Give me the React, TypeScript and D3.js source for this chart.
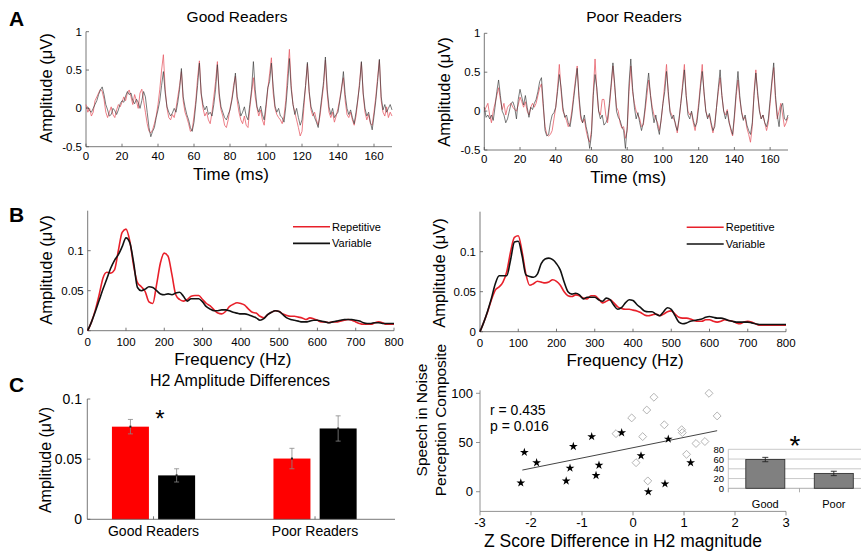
import React from "react";
import * as d3 from "d3";

// ---------- DATA ----------
const TIME_MS = d3.range(0, 171);
const TIME_TICKS = [0, 20, 40, 60, 80, 100, 120, 140, 160];
const AMP_TICKS = [-0.5, 0, 0.5, 1];

const GOOD_VAR_WAVE = [
  0.00, 0.02, -0.03, -0.05, 0.00, 0.05, 0.10, 0.18, 0.24, 0.28,
  0.18, 0.05, -0.02, -0.10, -0.08, 0.00, -0.03, -0.08, -0.02, 0.06,
  0.10, 0.08, 0.16, 0.22, 0.18, 0.20, 0.10, 0.06, 0.12, 0.08,
  0.00, 0.10, 0.22, 0.15, -0.05, -0.25, -0.37, -0.30, -0.25, -0.12,
  -0.02, 0.10, 0.30, 0.48, 0.20, 0.02, -0.05, -0.10, -0.06, 0.00,
  -0.05, 0.08, 0.25, 0.52, 0.15, 0.02, -0.08, -0.15, -0.25, -0.30,
  -0.18, 0.05, 0.30, 0.59, 0.20, 0.05, -0.02, 0.03, -0.08, -0.05,
  -0.10, 0.05, 0.25, 0.57, 0.20, 0.02, -0.05, -0.12, -0.15, -0.08,
  -0.02, 0.10, 0.25, 0.46, 0.15, 0.05, -0.10, -0.05, 0.02, -0.10,
  -0.15, 0.05, 0.25, 0.61, 0.25, 0.02, -0.05, 0.03, -0.08, -0.15,
  0.05, 0.27, 0.35, 0.59, 0.28, 0.03, -0.05, 0.00, -0.10, -0.12,
  -0.18, 0.02, 0.30, 0.65, 0.25, 0.05, -0.08, 0.00, -0.12, -0.22,
  -0.15, 0.08, 0.30, 0.60, 0.22, 0.02, -0.05, -0.12, -0.18, -0.25,
  -0.05, 0.15, 0.35, 0.67, 0.25, 0.02, -0.08, 0.00, -0.12, -0.08,
  -0.05, 0.10, 0.25, 0.48, 0.18, 0.00, -0.08, -0.02, -0.12, -0.20,
  -0.05, 0.12, 0.30, 0.61, 0.20, 0.00, -0.10, -0.05, -0.18, -0.28,
  -0.10, 0.10, 0.35, 0.64, 0.15, -0.02, 0.05, -0.05, 0.00, 0.05,
  -0.02,
];
const GOOD_REP_WAVE = [
  0.05, -0.05, 0.00, -0.10, -0.05, 0.10, 0.15, 0.20, 0.25, 0.22,
  0.12, -0.05, -0.12, -0.05, 0.02, -0.08, -0.12, -0.02, 0.05, 0.02,
  0.08, 0.15, 0.10, 0.20, 0.24, 0.15, 0.05, 0.18, 0.10, 0.00,
  0.20, 0.25, 0.10, -0.05, -0.20, -0.30, -0.32, -0.28, -0.20, -0.10,
  0.05, 0.25, 0.50, 0.70, 0.25, 0.00, -0.12, -0.15, -0.08, -0.12,
  0.00, 0.15, 0.30, 0.48, 0.10, -0.05, -0.12, -0.20, -0.30, -0.28,
  -0.10, 0.10, 0.40, 0.62, 0.18, 0.00, -0.10, -0.05, -0.15, -0.20,
  -0.05, 0.15, 0.35, 0.61, 0.15, -0.02, -0.10, -0.22, -0.25, -0.15,
  0.00, 0.12, 0.30, 0.42, 0.10, -0.05, -0.15, -0.20, -0.10, -0.22,
  -0.25, 0.00, 0.20, 0.40, 0.15, 0.00, -0.10, -0.02, -0.15, -0.22,
  0.00, 0.25, 0.45, 0.66, 0.20, 0.00, -0.08, -0.12, -0.15, -0.20,
  -0.10, 0.10, 0.45, 0.77, 0.30, 0.05, -0.05, -0.15, -0.25, -0.36,
  -0.30, 0.00, 0.30, 0.58, 0.20, -0.02, -0.10, -0.05, -0.15, -0.22,
  -0.10, 0.10, 0.30, 0.63, 0.20, -0.05, -0.12, -0.05, -0.18, -0.10,
  0.00, 0.12, 0.28, 0.40, 0.10, -0.08, -0.12, -0.05, -0.15, -0.22,
  -0.10, 0.10, 0.35, 0.60, 0.18, -0.05, -0.15, -0.08, -0.20, -0.22,
  -0.05, 0.15, 0.40, 0.63, 0.10, -0.05, -0.10, 0.02, -0.12, -0.05,
  -0.10,
];
const POOR_VAR_WAVE = [
  0.05, -0.08, -0.05, -0.10, -0.05, -0.12, 0.05, 0.25, 0.40, 0.20,
  0.00, -0.05, -0.15, -0.10, 0.00, 0.10, 0.12, 0.05, -0.10, 0.15,
  0.28, 0.18, 0.08, 0.20, 0.05, -0.08, 0.05, 0.02, 0.10, 0.15,
  0.25, 0.38, 0.43, 0.10, -0.25, -0.32, -0.30, -0.15, -0.05, -0.02,
  0.05, 0.25, 0.47, 0.30, 0.05, -0.08, -0.05, -0.15, -0.20, -0.05,
  0.15, 0.35, 0.55, 0.20, -0.05, -0.15, -0.05, -0.20, -0.30, -0.48,
  -0.30, 0.20, 0.47, 0.30, 0.00, -0.10, -0.05, -0.18, -0.15, -0.10,
  0.10, 0.35, 0.62, 0.35, 0.00, -0.08, -0.12, -0.20, -0.25, -0.48,
  -0.20, 0.35, 0.67, 0.30, 0.05, -0.10, -0.02, -0.15, -0.25, -0.15,
  0.05, 0.30, 0.49, 0.20, 0.00, -0.15, -0.05, -0.20, -0.30, -0.10,
  0.10, 0.25, 0.51, 0.25, -0.02, -0.10, -0.05, -0.18, -0.25, -0.10,
  0.10, 0.30, 0.53, 0.20, -0.05, -0.10, 0.00, -0.12, -0.20, -0.15,
  0.05, 0.30, 0.51, 0.25, 0.00, -0.10, -0.03, -0.15, -0.25, -0.20,
  0.05, 0.30, 0.53, 0.20, 0.00, -0.10, 0.00, -0.15, -0.22, -0.30,
  -0.05, 0.25, 0.51, 0.20, -0.02, -0.12, -0.05, -0.18, -0.25, -0.30,
  -0.15, 0.20, 0.49, 0.25, 0.00, -0.10, -0.05, -0.15, -0.20, -0.10,
  0.15, 0.40, 0.62, 0.20, -0.05, -0.20, 0.05, 0.10, -0.10, -0.12,
  -0.05,
];
const POOR_REP_WAVE = [
  0.00, 0.05, 0.10, -0.05, -0.15, 0.00, 0.10, 0.20, 0.30, 0.15,
  0.02, 0.10, -0.05, 0.05, 0.08, 0.10, 0.05, 0.02, 0.00, 0.08,
  0.18, 0.12, 0.05, 0.12, 0.00, -0.05, 0.05, 0.10, 0.05, 0.10,
  0.20, 0.30, 0.35, 0.05, -0.20, -0.30, -0.32, -0.30, -0.25, -0.10,
  0.05, 0.30, 0.60, 0.25, 0.00, -0.05, -0.12, -0.20, -0.15, 0.00,
  0.20, 0.40, 0.58, 0.15, -0.10, -0.15, -0.10, -0.25, -0.35, -0.40,
  -0.25, 0.25, 0.67, 0.25, 0.00, -0.05, 0.15, 0.15, -0.05, -0.15,
  0.05, 0.30, 0.58, 0.30, 0.05, 0.00, -0.15, -0.22, -0.20, -0.35,
  -0.25, 0.25, 0.58, 0.25, 0.10, 0.00, -0.05, -0.10, -0.20, -0.18,
  0.00, 0.20, 0.40, 0.22, 0.05, -0.05, -0.10, -0.15, -0.25, -0.12,
  0.10, 0.35, 0.60, 0.20, 0.00, -0.05, -0.10, -0.15, -0.28, -0.12,
  0.10, 0.35, 0.60, 0.20, 0.00, -0.05, -0.02, -0.15, -0.25, -0.10,
  0.10, 0.35, 0.60, 0.22, 0.00, -0.08, -0.05, -0.18, -0.28, -0.15,
  0.05, 0.25, 0.43, 0.20, 0.00, -0.05, 0.02, -0.12, -0.25, -0.32,
  -0.10, 0.20, 0.40, 0.15, 0.00, -0.10, -0.08, -0.22, -0.30, -0.40,
  -0.20, 0.25, 0.53, 0.20, 0.02, -0.10, -0.05, -0.15, -0.25, -0.15,
  0.10, 0.35, 0.56, 0.15, -0.10, 0.00, 0.10, -0.05, -0.20, -0.15,
  -0.08,
];

const FREQ_HZ = d3.range(0, 801, 10);
const FREQ_TICKS = [0, 100, 200, 300, 400, 500, 600, 700, 800];
const SPEC_TICKS = [0, 0.05, 0.1];

const GOOD_REP_SPEC = [
  0, 0.011, 0.026, 0.045, 0.066, 0.073, 0.072, 0.076, 0.1, 0.123,
  0.127, 0.112, 0.081, 0.06, 0.055, 0.049, 0.036, 0.034, 0.058, 0.085,
  0.097, 0.093, 0.07, 0.045, 0.039, 0.037, 0.039, 0.043, 0.044, 0.044,
  0.039, 0.034, 0.031, 0.026, 0.022, 0.021, 0.024, 0.03, 0.033, 0.035,
  0.034, 0.032, 0.027, 0.023, 0.022, 0.018, 0.016, 0.02, 0.023, 0.025,
  0.024, 0.021, 0.019, 0.018, 0.018, 0.017, 0.016, 0.014, 0.016, 0.015,
  0.013, 0.011, 0.011, 0.01, 0.011, 0.011, 0.012, 0.013, 0.014, 0.013,
  0.011, 0.009, 0.008, 0.008, 0.008, 0.01, 0.011, 0.01, 0.008, 0.008,
  0.008,
];
const GOOD_VAR_SPEC = [
  0, 0.011, 0.024, 0.038, 0.052, 0.065, 0.078, 0.088, 0.095, 0.105,
  0.116, 0.11, 0.085, 0.054, 0.05, 0.052, 0.055, 0.054, 0.05, 0.046,
  0.045, 0.046, 0.045, 0.047, 0.048, 0.043, 0.037, 0.04, 0.04, 0.04,
  0.036, 0.03, 0.027, 0.025, 0.025, 0.026, 0.026, 0.025, 0.023, 0.022,
  0.021, 0.021, 0.02, 0.018, 0.016, 0.013, 0.015, 0.02, 0.023, 0.025,
  0.024, 0.02, 0.016, 0.014, 0.013, 0.012, 0.011, 0.011, 0.012, 0.013,
  0.013, 0.012, 0.011, 0.01, 0.011, 0.012, 0.013, 0.014, 0.014, 0.014,
  0.013, 0.012, 0.01, 0.009, 0.009, 0.01, 0.01, 0.009, 0.009, 0.009,
  0.009,
];
const POOR_REP_SPEC = [
  0, 0.012, 0.025, 0.04, 0.052, 0.056, 0.062, 0.075, 0.1, 0.118,
  0.12, 0.1, 0.072, 0.058, 0.06, 0.063, 0.062, 0.061, 0.062, 0.065,
  0.063, 0.058, 0.05, 0.045, 0.044, 0.046, 0.045, 0.042, 0.041, 0.045,
  0.045, 0.041, 0.036, 0.038, 0.04, 0.036, 0.031, 0.029, 0.028, 0.028,
  0.027, 0.026, 0.024, 0.021, 0.02, 0.021, 0.022, 0.02, 0.022, 0.025,
  0.026, 0.022, 0.018, 0.017, 0.017, 0.016, 0.014, 0.013, 0.013, 0.015,
  0.015, 0.013, 0.012, 0.013, 0.015, 0.014, 0.013, 0.011, 0.01, 0.012,
  0.013, 0.012, 0.01, 0.008, 0.008, 0.008, 0.008, 0.008, 0.008, 0.008,
  0.008,
];
const POOR_VAR_SPEC = [
  0, 0.012, 0.026, 0.042, 0.06, 0.07, 0.07, 0.07, 0.09, 0.112,
  0.113, 0.095, 0.071, 0.069, 0.068, 0.072, 0.085, 0.091, 0.092, 0.09,
  0.085, 0.077, 0.062, 0.05, 0.047, 0.048, 0.046, 0.041, 0.043, 0.043,
  0.043, 0.04, 0.038, 0.042, 0.04, 0.033, 0.028, 0.03, 0.036, 0.04,
  0.039, 0.034, 0.03, 0.026, 0.025, 0.025, 0.022, 0.02, 0.025, 0.03,
  0.028, 0.02, 0.012, 0.01, 0.011, 0.013, 0.014, 0.015, 0.016, 0.018,
  0.019, 0.018, 0.017, 0.017, 0.016, 0.014, 0.013, 0.012, 0.012, 0.012,
  0.012, 0.011, 0.01, 0.009, 0.009, 0.009, 0.009, 0.009, 0.009, 0.009,
  0.009,
];
const LEGEND_LABELS = ["Repetitive", "Variable"];

// Panel C left: H2 amplitude bars
const GROUPS = ["Good Readers", "Poor Readers"];
const H2_REP = [0.077, 0.0505];
const H2_REP_ERR = [0.006, 0.0085];
const H2_VAR = [0.0365, 0.0755];
const H2_VAR_ERR = [0.0055, 0.0105];
const H2_TICKS = [0, 0.05, 0.1];

// Panel C right: scatter
const GOOD_Z = [-2.2, -2.13, -1.89, -1.31, -1.235, -1.17, -0.81, -0.725, -0.667, -0.222, 0.157, 0.3, 0.627, 0.692, 1.13];
const GOOD_SIN = [9, 40, 29.5, 11, 24, 46, 56, 16.5, 27, 60, 36.5, 0, 8, 53.5, 29.5];
const POOR_Z = [-0.333, -0.026, 0.06, 0.19, 0.27, 0.29, 0.41, 0.614, 0.954, 0.967, 1.05, 1.235, 1.41, 1.49, 1.65];
const POOR_SIN = [59, 75, 29.5, 56, 83, 11, 96, 68, 63, 60, 38, 49, 51, 100, 77];
const FIT_Z = [-2.17, 1.65];
const FIT_SIN = [22, 62];
const Z_TICKS = [-3, -2, -1, 0, 1, 2, 3];
const SIN_TICKS = [0, 50, 100];
const STATS = ["r = 0.435", "p = 0.016"];

// Inset bars
const INSET_GROUPS = ["Good", "Poor"];
const INSET_VALUES = [59, 30.5];
const INSET_ERR = [4.5, 4.5];
const INSET_TICKS = [0, 20, 40, 60, 80];

// ---------- STYLE ----------
const FONT = "'Liberation Sans', Arial, sans-serif";
const AXIS = "#555";
const RED = "#e8202a";
const BLK = "#111";

function WavePanel({ xr, yr, rep, vari, title, titleX }: any) {
  const x = d3.scaleLinear().domain([0, 170]).range(xr);
  const y = d3.scaleLinear().domain([-0.5, 1]).range(yr);
  const line = (vals: number[]) =>
    d3.line<number>().x((_, i) => x(TIME_MS[i])).y((d) => y(d))(vals) || "";
  const cx = (xr[0] + xr[1]) / 2;
  return (
    <g fontFamily={FONT}>
      <text x={titleX} y={22} fontSize={15.5} textAnchor="middle">{title}</text>
      <line x1={xr[0]} x2={xr[0]} y1={yr[0]} y2={yr[1]} stroke={AXIS} strokeWidth={0.8} />
      <line x1={xr[0]} x2={xr[1]} y1={yr[0]} y2={yr[0]} stroke={AXIS} strokeWidth={0.8} />
      {AMP_TICKS.map((t) => (
        <g key={t}>
          <line x1={xr[0]} x2={xr[0] + 3} y1={y(t)} y2={y(t)} stroke={AXIS} strokeWidth={0.8} />
          <text x={xr[0] - 4} y={y(t) + 4} fontSize={11.5} textAnchor="end">{t}</text>
        </g>
      ))}
      {TIME_TICKS.map((t) => (
        <g key={t}>
          <line x1={x(t)} x2={x(t)} y1={yr[0]} y2={yr[0] - 3} stroke={AXIS} strokeWidth={0.8} />
          <text x={x(t)} y={yr[0] + 13} fontSize={11.5} textAnchor="middle">{t}</text>
        </g>
      ))}
      <path d={line(rep)} fill="none" stroke="#e8606a" strokeWidth={0.9} strokeOpacity={0.9} />
      <path d={line(vari)} fill="none" stroke="#3a3a3a" strokeWidth={0.8} strokeOpacity={0.85} />
      <text x={cx - 8} y={yr[0] + 33} fontSize={17} textAnchor="middle">Time (ms)</text>
    </g>
  );
}

function SpecPanel({ xr, yr, rep, vari, legX, legY }: any) {
  const x = d3.scaleLinear().domain([0, 800]).range(xr);
  const y = d3.scaleLinear().domain([0, 0.15]).range(yr);
  const line = (vals: number[]) =>
    d3.line<number>().x((_, i) => x(FREQ_HZ[i])).y((d) => y(d)).curve(d3.curveMonotoneX)(vals) || "";
  const cx = (xr[0] + xr[1]) / 2;
  return (
    <g fontFamily={FONT}>
      <line x1={xr[0]} x2={xr[0]} y1={yr[0]} y2={yr[1]} stroke={AXIS} strokeWidth={0.8} />
      <line x1={xr[0]} x2={xr[1]} y1={yr[0]} y2={yr[0]} stroke={AXIS} strokeWidth={0.8} />
      {SPEC_TICKS.map((t) => (
        <g key={t}>
          <line x1={xr[0]} x2={xr[0] + 3} y1={y(t)} y2={y(t)} stroke={AXIS} strokeWidth={0.8} />
          <text x={xr[0] - 4} y={y(t) + 4} fontSize={11.5} textAnchor="end">{t}</text>
        </g>
      ))}
      {FREQ_TICKS.map((t) => (
        <g key={t}>
          <line x1={x(t)} x2={x(t)} y1={yr[0]} y2={yr[0] - 3} stroke={AXIS} strokeWidth={0.8} />
          <text x={x(t)} y={yr[0] + 15} fontSize={11.5} textAnchor="middle">{t}</text>
        </g>
      ))}
      <path d={line(rep)} fill="none" stroke={RED} strokeWidth={1.6} />
      <path d={line(vari)} fill="none" stroke={BLK} strokeWidth={1.6} />
      {LEGEND_LABELS.map((l, i) => (
        <g key={l}>
          <line x1={legX} x2={legX + 37} y1={legY + i * 16.7} y2={legY + i * 16.7} stroke={i === 0 ? RED : BLK} strokeWidth={1.6} />
          <text x={legX + 39} y={legY + i * 16.7 + 4} fontSize={11}>{l}</text>
        </g>
      ))}
      <text x={cx - 8} y={yr[0] + 34} fontSize={17} textAnchor="middle">Frequency (Hz)</text>
    </g>
  );
}

function H2Bars() {
  const x = d3.scaleLinear().domain([0.59, 2.495]).range([87.3, 395]);
  const y = d3.scaleLinear().domain([0, 0.1]).range([519.3, 399]);
  const off = 0.143, bw = 0.229;
  const bars = GROUPS.flatMap((g, i) => [
    { x: i + 1 - off, v: H2_REP[i], e: H2_REP_ERR[i], c: "#ff0000" },
    { x: i + 1 + off, v: H2_VAR[i], e: H2_VAR_ERR[i], c: "#000" },
  ]);
  const w = x(bw) - x(0);
  return (
    <g fontFamily={FONT}>
      <text x={240} y={386} fontSize={16} textAnchor="middle">H2 Amplitude Differences</text>
      {bars.map((b, i) => (
        <g key={i}>
          <rect x={x(b.x) - w / 2} y={y(b.v)} width={w} height={y(0) - y(b.v)} fill={b.c} />
          <line x1={x(b.x)} x2={x(b.x)} y1={y(b.v + b.e)} y2={y(b.v - b.e)} stroke="#888" strokeWidth={0.8} />
          <line x1={x(b.x) - 2.5} x2={x(b.x) + 2.5} y1={y(b.v + b.e)} y2={y(b.v + b.e)} stroke="#888" strokeWidth={0.8} />
          <line x1={x(b.x) - 2.5} x2={x(b.x) + 2.5} y1={y(b.v - b.e)} y2={y(b.v - b.e)} stroke="#888" strokeWidth={0.8} />
          <rect x={x(b.x) - 1} y={y(b.v) - 1} width={2} height={2} fill="#222" />
        </g>
      ))}
      <line x1={87.3} x2={87.3} y1={y(0)} y2={y(0.1)} stroke={AXIS} strokeWidth={0.8} />
      <line x1={87.3} x2={395} y1={y(0)} y2={y(0)} stroke={AXIS} strokeWidth={0.8} />
      {H2_TICKS.map((t) => (
        <g key={t}>
          <line x1={87.3} x2={90.3} y1={y(t)} y2={y(t)} stroke={AXIS} strokeWidth={0.8} />
          <text x={82} y={y(t) + 5} fontSize={14} textAnchor="end">{t}</text>
        </g>
      ))}
      {GROUPS.map((g, i) => (
        <g key={g}>
          <line x1={x(i + 1)} x2={x(i + 1)} y1={y(0)} y2={y(0) - 3} stroke={AXIS} strokeWidth={0.8} />
          <text x={x(i + 1)} y={536} fontSize={14} textAnchor="middle">{g}</text>
        </g>
      ))}
      <text x={160} y={427} fontSize={24} textAnchor="middle">*</text>
      <text transform="translate(51,460) rotate(-90)" fontSize={16} textAnchor="middle">Amplitude (μV)</text>
    </g>
  );
}

function Scatter() {
  const x = d3.scaleLinear().domain([-3, 3]).range([480, 786]);
  const y = d3.scaleLinear().domain([-20, 100]).range([511.4, 393.3]);
  const star = d3.symbol(d3.symbolStar, 24)() || "";
  const diamond = d3.symbol(d3.symbolDiamond2, 40)() || "";
  return (
    <g fontFamily={FONT}>
      <line x1={480} x2={480} y1={y(-20)} y2={y(100) - 3} stroke="#777" strokeWidth={0.8} />
      <line x1={480} x2={786} y1={y(-20)} y2={y(-20)} stroke="#777" strokeWidth={0.8} />
      {SIN_TICKS.map((t) => (
        <g key={t}>
          <line x1={476} x2={480} y1={y(t)} y2={y(t)} stroke="#777" strokeWidth={0.8} />
          <text x={473} y={y(t) + 4.5} fontSize={13} textAnchor="end">{t}</text>
        </g>
      ))}
      {Z_TICKS.map((t) => (
        <g key={t}>
          <line x1={x(t)} x2={x(t)} y1={y(-20)} y2={y(-20) + 4} stroke="#777" strokeWidth={0.8} />
          <text x={x(t)} y={y(-20) + 16} fontSize={13} textAnchor="middle">{t}</text>
        </g>
      ))}
      {POOR_Z.map((z, i) => (
        <path key={"d" + i} d={diamond} transform={`translate(${x(z)},${y(POOR_SIN[i])})`} fill="none" stroke="#aaa" strokeWidth={0.9} />
      ))}
      <line x1={x(FIT_Z[0])} y1={y(FIT_SIN[0])} x2={x(FIT_Z[1])} y2={y(FIT_SIN[1])} stroke="#444" strokeWidth={1} />
      {GOOD_Z.map((z, i) => (
        <path key={"s" + i} d={star} transform={`translate(${x(z)},${y(GOOD_SIN[i])})`} fill="#000" />
      ))}
      {STATS.map((s, i) => (
        <text key={s} x={490} y={415 + i * 16} fontSize={14}>{s}</text>
      ))}
      <text x={623} y={547} fontSize={17.5} textAnchor="middle">Z Score Difference in H2 magnitude</text>
      <text transform="translate(427,420) rotate(-90)" fontSize={15.5} textAnchor="middle">Speech in Noise</text>
      <text transform="translate(446,420) rotate(-90)" fontSize={15.5} textAnchor="middle">Perception Composite</text>
    </g>
  );
}

function Inset() {
  const y = d3.scaleLinear().domain([0, 80]).range([488.3, 449.3]);
  const x = d3.scalePoint<string>().domain(INSET_GROUPS).range([765.3, 833.8]);
  const bw = 39;
  return (
    <g fontFamily={FONT}>
      {INSET_TICKS.map((t) => (
        <g key={t}>
          <line x1={728.3} x2={861} y1={y(t)} y2={y(t)} stroke={t === 0 ? "#999" : "#bbb"} strokeWidth={0.8} />
          <text x={724} y={y(t) + 3.5} fontSize={9.5} textAnchor="end">{t}</text>
        </g>
      ))}
      <line x1={728.3} x2={728.3} y1={y(0)} y2={y(80)} stroke="#bbb" strokeWidth={0.8} />
      {[728.3, 799.5].map((t) => (
        <line key={t} x1={t} x2={t} y1={y(0)} y2={y(0) + 4} stroke="#999" strokeWidth={0.8} />
      ))}
      {INSET_GROUPS.map((g, i) => {
        const cx = x(g) as number;
        return (
          <g key={g}>
            <rect x={cx - bw / 2} y={y(INSET_VALUES[i])} width={bw} height={y(0) - y(INSET_VALUES[i])} fill="#808080" stroke="#333" strokeWidth={0.9} />
            <line x1={cx} x2={cx} y1={y(INSET_VALUES[i] + INSET_ERR[i])} y2={y(INSET_VALUES[i] - INSET_ERR[i])} stroke="#222" strokeWidth={0.9} />
            <line x1={cx - 3} x2={cx + 3} y1={y(INSET_VALUES[i] + INSET_ERR[i])} y2={y(INSET_VALUES[i] + INSET_ERR[i])} stroke="#222" strokeWidth={0.9} />
            <line x1={cx - 3} x2={cx + 3} y1={y(INSET_VALUES[i] - INSET_ERR[i])} y2={y(INSET_VALUES[i] - INSET_ERR[i])} stroke="#222" strokeWidth={0.9} />
            <text x={cx} y={508} fontSize={11} textAnchor="middle">{g}</text>
          </g>
        );
      })}
      <text x={795} y={455} fontSize={28} textAnchor="middle">*</text>
    </g>
  );
}

export default function App() {
  return (
    <svg width={861} height={553} style={{ position: "absolute", left: 0, top: 0, background: "#fff" }}>
      <rect width={861} height={553} fill="#fff" />
      <g fontFamily={FONT} fontWeight="bold" fontSize={21}>
        <text x={9} y={26}>A</text>
        <text x={9} y={222}>B</text>
        <text x={9} y={392}>C</text>
      </g>
      <WavePanel xr={[86, 392]} yr={[146.7, 31.7]} rep={GOOD_REP_WAVE} vari={GOOD_VAR_WAVE} title="Good Readers" titleX={237} />
      <WavePanel xr={[484.3, 788]} yr={[150, 33.3]} rep={POOR_REP_WAVE} vari={POOR_VAR_WAVE} title="Poor Readers" titleX={634} />
      <g fontFamily={FONT} fontSize={16.5}>
        <text transform="translate(52,88) rotate(-90)" textAnchor="middle">Amplitude (μV)</text>
        <text transform="translate(450,92) rotate(-90)" textAnchor="middle">Amplitude (μV)</text>
        <text transform="translate(52,270) rotate(-90)" textAnchor="middle">Amplitude (μV)</text>
        <text transform="translate(445,273) rotate(-90)" textAnchor="middle">Amplitude (μV)</text>
      </g>
      <SpecPanel xr={[87.7, 394]} yr={[330.7, 210.7]} rep={GOOD_REP_SPEC} vari={GOOD_VAR_SPEC} legX={293} legY={226.7} />
      <SpecPanel xr={[480, 786]} yr={[331.7, 211.7]} rep={POOR_REP_SPEC} vari={POOR_VAR_SPEC} legX={686.7} legY={227.3} />
      <H2Bars />
      <Scatter />
      <Inset />
    </svg>
  );
}
